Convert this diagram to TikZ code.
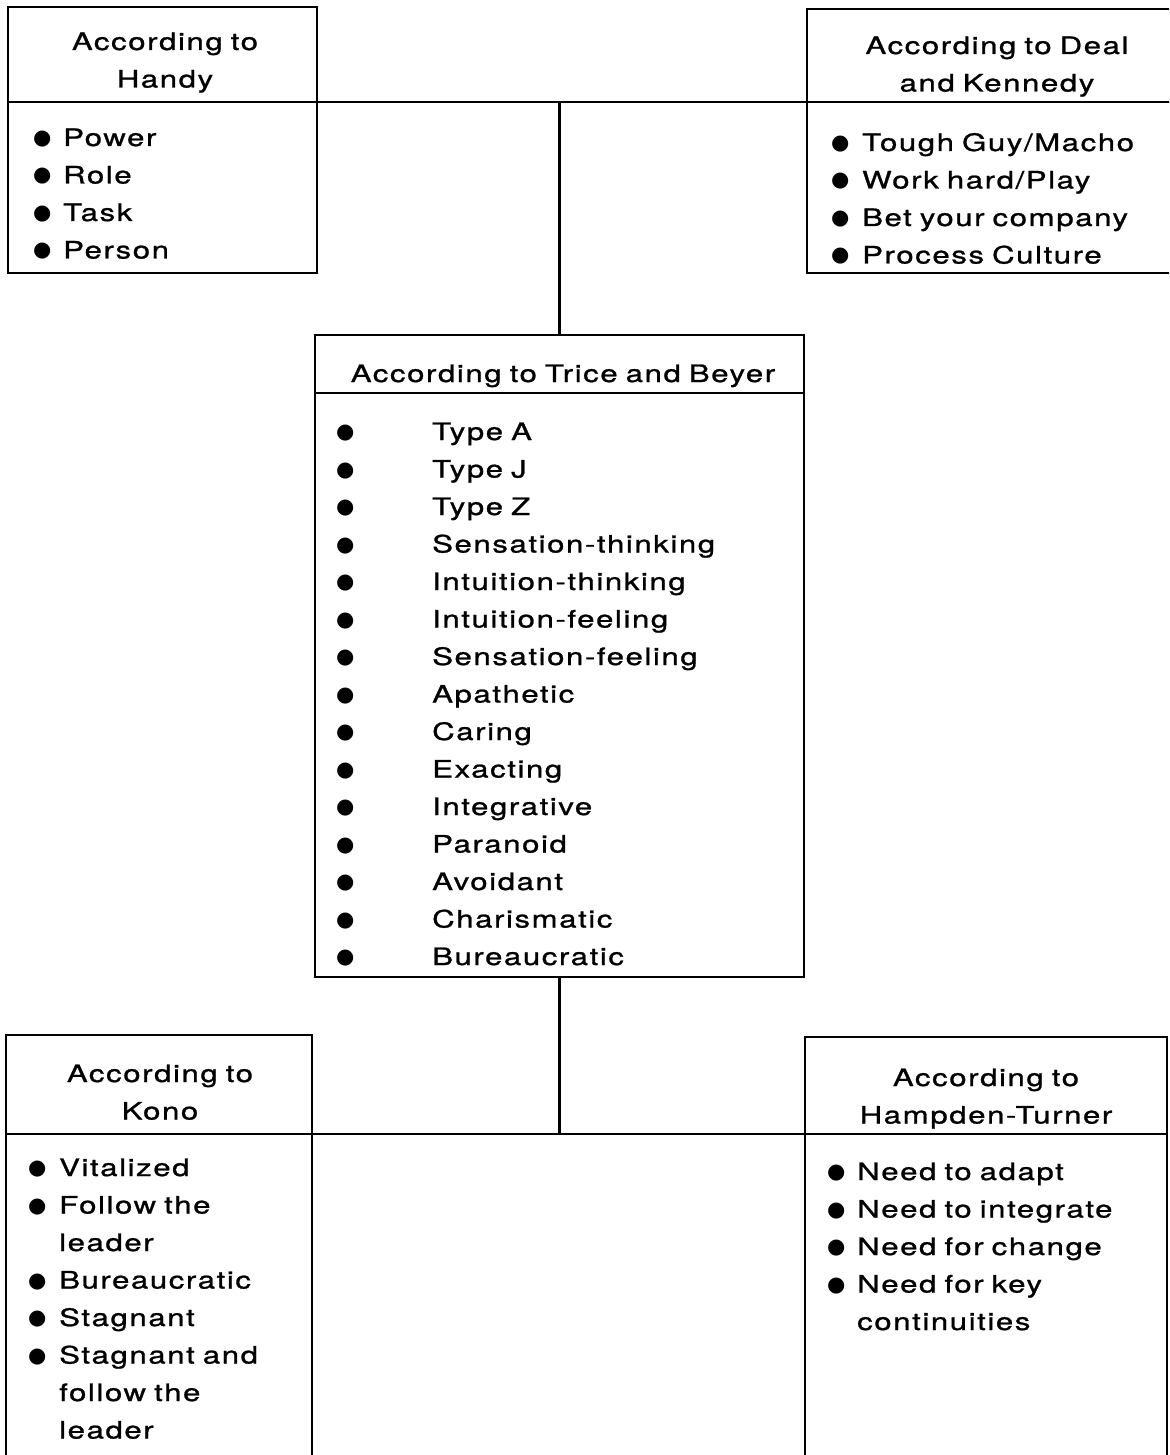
\documentclass[tikz,border=0pt]{standalone}
\usepackage{fontspec}
\setmainfont{TeX Gyre Heros}[FakeStretch=1.3, LetterSpace=6.5, WordSpace=1.4, FakeBold=1]
\newfontfamily\bulletfont{DejaVu Sans}
\newcommand{\listfont}{\fontsize{24}{37.5}\selectfont}
% bullet set in a box of the given width, so that item texts line up
\newcommand{\blt}[1]{\makebox[#1][l]{\raisebox{1.5pt}{\bulletfont\fontsize{21}{21}\selectfont ●}}}
\newcommand{\ind}[1]{\hspace*{#1}}

\tikzset{
  frame/.style={draw=black, line width=2.8pt, rectangle, inner sep=0pt,
                outer sep=0pt, anchor=north west},
  link/.style={draw=black, line width=2.5pt},
  hdrtext/.style={anchor=base, align=center, inner sep=0pt, font=\listfont},
  listtext/.style={anchor=base west, align=left, inner sep=0pt,
                   text width=500pt, font=\listfont},
}

\begin{document}
\begin{tikzpicture}[x=1pt,y=-1pt]
\clip (0,0) rectangle (1169,1455);

% ---- boxes: a header cell above a list cell ----
\node[frame, minimum width=309pt, minimum height=95pt]  (handyH) at (8,7) {};
\node[frame, minimum width=309pt, minimum height=171pt] (handyB) at (handyH.south west) {};

\node[frame, minimum width=400pt, minimum height=93pt]  (dealH) at (807,9) {};
\node[frame, minimum width=400pt, minimum height=171pt] (dealB) at (dealH.south west) {};

\node[frame, minimum width=489pt, minimum height=58pt]  (trH) at (315,335) {};
\node[frame, minimum width=489pt, minimum height=584pt] (trB) at (trH.south west) {};

\node[frame, minimum width=306pt, minimum height=99pt]  (konoH) at (6,1035) {};
\node[frame, minimum width=306pt, minimum height=400pt] (konoB) at (konoH.south west) {};

\node[frame, minimum width=362pt, minimum height=97pt]  (hampH) at (805,1037) {};
\node[frame, minimum width=362pt, minimum height=400pt] (hampB) at (hampH.south west) {};

% ---- connectors ----
\draw[link] (handyH.south east) -- (dealH.south west);
\draw[link] (trH.north) -- (trH.north |- handyH.south east);
\draw[link] (konoH.south east) -- (hampH.south west);
\draw[link] (trB.south) -- (trB.south |- konoH.south east);

% ---- headings ----
\node[hdrtext, text width=300pt] (handyT) at (165,50)  {According to\\Handy};
\node[hdrtext, text width=360pt] (dealT)  at (997,54)  {According to Deal\\and Kennedy};
\node[hdrtext, text width=480pt] (trT)    at (563,382) {According to Trice and Beyer};
\node[hdrtext, text width=300pt] (konoT)  at (160,1082) {According to\\Kono};
\node[hdrtext, text width=360pt] (hampT)  at (986,1086) {According to\\Hampden-Turner};

% ---- lists ----
\node[listtext] (handyL) at (33,146) {%
  \blt{30pt}Power\\
  \blt{30pt}Role\\
  \blt{30pt}Task\\
  \blt{30pt}Person};

\node[listtext] (dealL) at (831,151) {%
  \blt{31pt}Tough Guy/Macho\\
  \blt{31pt}Work hard/Play\\
  \blt{31pt}Bet your company\\
  \blt{31pt}Process Culture};

\node[listtext] (trL) at (336,440) {%
  \blt{96pt}Type A\\
  \blt{96pt}Type J\\
  \blt{96pt}Type Z\\
  \blt{96pt}Sensation-thinking\\
  \blt{96pt}Intuition-thinking\\
  \blt{96pt}Intuition-feeling\\
  \blt{96pt}Sensation-feeling\\
  \blt{96pt}Apathetic\\
  \blt{96pt}Caring\\
  \blt{96pt}Exacting\\
  \blt{96pt}Integrative\\
  \blt{96pt}Paranoid\\
  \blt{96pt}Avoidant\\
  \blt{96pt}Charismatic\\
  \blt{96pt}Bureaucratic};

\node[listtext] (konoL) at (28,1176) {%
  \blt{31pt}Vitalized\\
  \blt{31pt}Follow the\\
  \ind{31pt}leader\\
  \blt{31pt}Bureaucratic\\
  \blt{31pt}Stagnant\\
  \blt{31pt}Stagnant and\\
  \ind{31pt}follow the\\
  \ind{31pt}leader};

\node[listtext] (hampL) at (827,1180) {%
  \blt{30pt}Need to adapt\\
  \blt{30pt}Need to integrate\\
  \blt{30pt}Need for change\\
  \blt{30pt}Need for key\\
  \ind{30pt}continuities};
\end{tikzpicture}
\end{document}
